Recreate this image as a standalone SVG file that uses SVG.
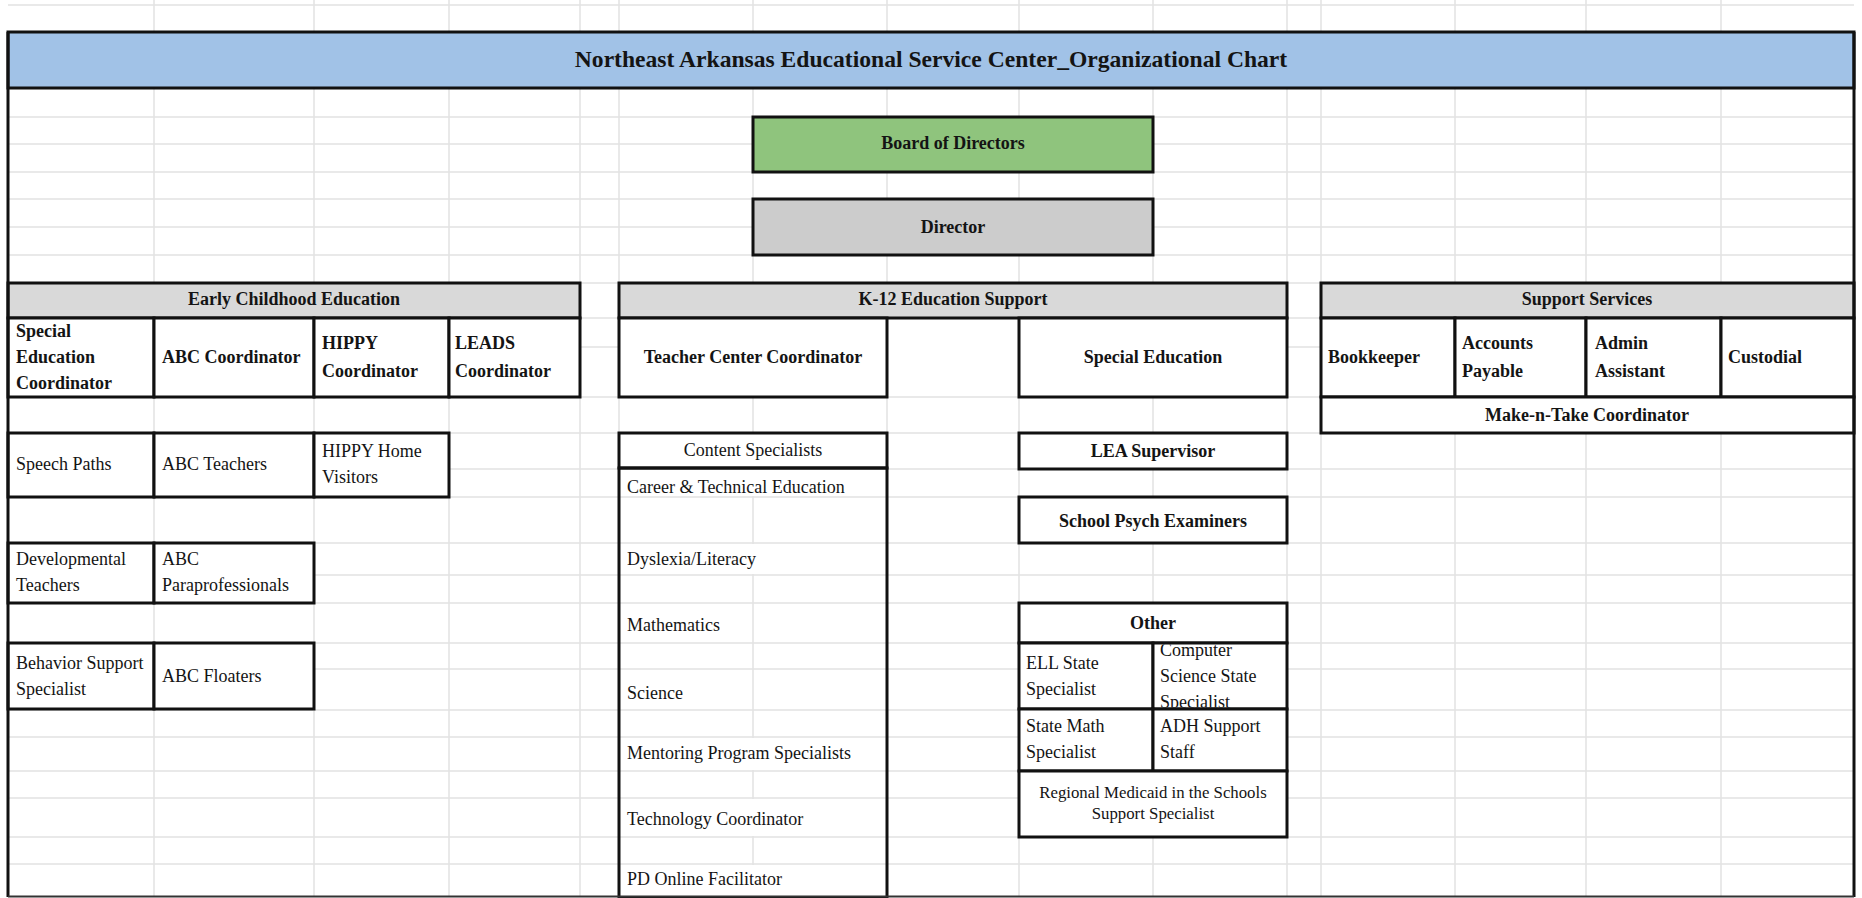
<svg xmlns="http://www.w3.org/2000/svg" width="1862" height="898" viewBox="0 0 1862 898">
<style>
.grid{stroke:#e2e2e2;stroke-width:1.5;fill:none}
.box{fill:#fff;stroke:#111;stroke-width:3}
.hdr{fill:#d9d9d9;stroke:#111;stroke-width:3}
.t{font-family:"Liberation Serif","DejaVu Serif",serif;font-size:18px;fill:#141414}
.b{font-weight:bold}
.c{text-anchor:middle}
.sm{font-size:16.8px}
</style>
<defs>
<clipPath id="clipCS"><rect x="1154.5" y="644.5" width="131" height="63"/></clipPath>
</defs>
<rect x="0" y="0" width="1862" height="898" fill="#fff"/>
<g id="gridlines">
<path class="grid" d="M154 0V896M314 0V896M449 0V896M580 0V896M619 0V896M753 0V896M887 0V896M1019 0V896M1153 0V896M1287 0V896M1321 0V896M1455 0V896M1586 0V896M1721 0V896"/>
<path class="grid" d="M8 5H1854M8 117H1854M8 144H1854M8 172H1854M8 199H1854M8 227H1854M8 255H1854M8 283H1854M8 318H1854M8 347H1854M8 397H1854M8 433H1854M8 469H1854M8 497H1854M8 543H1854M8 575H1854M8 603H1854M8 643H1854M8 669H1854M8 710H1854M8 737H1854M8 771H1854M8 798H1854M8 837H1854M8 864H1854"/>
<rect x="888" y="319" width="130" height="77" fill="#fff"/>
<rect x="621" y="470" width="264" height="26" fill="#fff"/>
<rect x="621" y="544" width="264" height="30" fill="#fff"/>
<rect x="621" y="738" width="264" height="32" fill="#fff"/>
<rect x="621" y="799" width="264" height="37" fill="#fff"/>
<rect x="621" y="865" width="264" height="31" fill="#fff"/>
</g>
<g id="title">
<rect x="8" y="32" width="1846" height="56" fill="#a1c2e7" stroke="#111" stroke-width="3"/>
<text class="t b c" x="931" y="67" style="font-size:23.6px">Northeast Arkansas Educational Service Center_Organizational Chart</text>
</g>
<g id="board">
<rect x="753" y="117" width="400" height="55" fill="#8fc47d" stroke="#111" stroke-width="3"/>
<text class="t b c" x="953" y="149">Board of Directors</text>
</g>
<g id="director">
<rect x="753" y="199" width="400" height="56" fill="#cccccc" stroke="#111" stroke-width="3"/>
<text class="t b c" x="953" y="233">Director</text>
</g>
<g id="ece">
<rect class="hdr" x="8" y="283" width="572" height="35"/>
<text class="t b c" x="294" y="305">Early Childhood Education</text>
</g>
<g id="sped-coord">
<rect class="box" x="8" y="318" width="146" height="79"/>
<text class="t b" x="16" y="337">Special</text>
<text class="t b" x="16" y="363">Education</text>
<text class="t b" x="16" y="389">Coordinator</text>
</g>
<g id="abc-coord">
<rect class="box" x="154" y="318" width="160" height="79"/>
<text class="t b" x="162" y="363">ABC Coordinator</text>
</g>
<g id="hippy-coord">
<rect class="box" x="314" y="318" width="135" height="79"/>
<text class="t b" x="322" y="349">HIPPY</text>
<text class="t b" x="322" y="377">Coordinator</text>
</g>
<g id="leads-coord">
<rect class="box" x="449" y="318" width="131" height="79"/>
<text class="t b" x="455" y="349">LEADS</text>
<text class="t b" x="455" y="377">Coordinator</text>
</g>
<g id="speech">
<rect class="box" x="8" y="433" width="146" height="64"/>
<text class="t" x="16" y="470">Speech Paths</text>
</g>
<g id="abc-teachers">
<rect class="box" x="154" y="433" width="160" height="64"/>
<text class="t" x="162" y="470">ABC Teachers</text>
</g>
<g id="hippy-visitors">
<rect class="box" x="314" y="433" width="135" height="64"/>
<text class="t" x="322" y="457">HIPPY Home</text>
<text class="t" x="322" y="483">Visitors</text>
</g>
<g id="dev-teachers">
<rect class="box" x="8" y="543" width="146" height="60"/>
<text class="t" x="16" y="565">Developmental</text>
<text class="t" x="16" y="591">Teachers</text>
</g>
<g id="abc-para">
<rect class="box" x="154" y="543" width="160" height="60"/>
<text class="t" x="162" y="565">ABC</text>
<text class="t" x="162" y="591">Paraprofessionals</text>
</g>
<g id="behavior">
<rect class="box" x="8" y="643" width="146" height="66"/>
<text class="t" x="16" y="669">Behavior Support</text>
<text class="t" x="16" y="695">Specialist</text>
</g>
<g id="abc-floaters">
<rect class="box" x="154" y="643" width="160" height="66"/>
<text class="t" x="162" y="682">ABC Floaters</text>
</g>
<g id="k12">
<rect class="hdr" x="619" y="283" width="668" height="35"/>
<text class="t b c" x="953" y="305">K-12 Education Support</text>
</g>
<g id="teacher-center">
<rect class="box" x="619" y="318" width="268" height="79"/>
<text class="t b c" x="753" y="363">Teacher Center Coordinator</text>
</g>
<g id="special-education">
<rect class="box" x="1019" y="318" width="268" height="79"/>
<text class="t b c" x="1153" y="363">Special Education</text>
</g>
<g id="content-specialists">
<rect class="box" x="619" y="433" width="268" height="35"/>
<text class="t c" x="753" y="456">Content Specialists</text>
</g>
<g id="content-list">
<rect x="619" y="468" width="268" height="430" fill="none" stroke="#111" stroke-width="3"/>
<text class="t" x="627" y="493">Career &amp; Technical Education</text>
<text class="t" x="627" y="565">Dyslexia/Literacy</text>
<text class="t" x="627" y="631">Mathematics</text>
<text class="t" x="627" y="699">Science</text>
<text class="t" x="627" y="759">Mentoring Program Specialists</text>
<text class="t" x="627" y="825">Technology Coordinator</text>
<text class="t" x="627" y="885">PD Online Facilitator</text>
</g>
<g id="lea">
<rect class="box" x="1019" y="433" width="268" height="36"/>
<text class="t b c" x="1153" y="457">LEA Supervisor</text>
</g>
<g id="psych">
<rect class="box" x="1019" y="497" width="268" height="46"/>
<text class="t b c" x="1153" y="527">School Psych Examiners</text>
</g>
<g id="other">
<rect class="box" x="1019" y="603" width="268" height="40"/>
<text class="t b c" x="1153" y="629">Other</text>
</g>
<g id="ell">
<rect class="box" x="1019" y="643" width="134" height="66"/>
<text class="t" x="1026" y="669">ELL State</text>
<text class="t" x="1026" y="695">Specialist</text>
</g>
<g id="cs">
<rect class="box" x="1153" y="643" width="134" height="66"/>
<g clip-path="url(#clipCS)">
<text class="t" x="1160" y="656">Computer</text>
<text class="t" x="1160" y="682">Science State</text>
<text class="t" x="1160" y="708">Specialist</text>
</g>
</g>
<g id="state-math">
<rect class="box" x="1019" y="709" width="134" height="62"/>
<text class="t" x="1026" y="732">State Math</text>
<text class="t" x="1026" y="758">Specialist</text>
</g>
<g id="adh">
<rect class="box" x="1153" y="709" width="134" height="62"/>
<text class="t" x="1160" y="732">ADH Support</text>
<text class="t" x="1160" y="758">Staff</text>
</g>
<g id="medicaid">
<rect class="box" x="1019" y="771" width="268" height="66"/>
<text class="t c sm" x="1153" y="798">Regional Medicaid in the Schools</text>
<text class="t c sm" x="1153" y="819">Support Specialist</text>
</g>
<g id="support">
<rect class="hdr" x="1321" y="283" width="533" height="35"/>
<text class="t b c" x="1587" y="305">Support Services</text>
</g>
<g id="bookkeeper">
<rect class="box" x="1321" y="318" width="134" height="79"/>
<text class="t b" x="1328" y="363">Bookkeeper</text>
</g>
<g id="accounts">
<rect class="box" x="1455" y="318" width="131" height="79"/>
<text class="t b" x="1462" y="349">Accounts</text>
<text class="t b" x="1462" y="377">Payable</text>
</g>
<g id="admin">
<rect class="box" x="1586" y="318" width="135" height="79"/>
<text class="t b" x="1595" y="349">Admin</text>
<text class="t b" x="1595" y="377">Assistant</text>
</g>
<g id="custodial">
<rect class="box" x="1721" y="318" width="133" height="79"/>
<text class="t b" x="1728" y="363">Custodial</text>
</g>
<g id="make-n-take">
<rect class="box" x="1321" y="397" width="533" height="36"/>
<text class="t b c" x="1587" y="421">Make-n-Take Coordinator</text>
</g>
<g id="connectors"></g>
<g id="frame">
<path d="M8 32V897M1854 32V897" stroke="#111" stroke-width="3" fill="none"/>
<path d="M8 896.5H1854" stroke="#333" stroke-width="2" fill="none"/>
</g>
</svg>
